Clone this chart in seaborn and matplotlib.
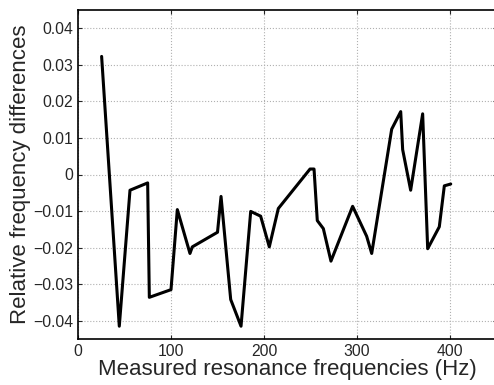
import pandas as pd
import matplotlib
matplotlib.use("Agg")
import matplotlib.pyplot as plt
import seaborn as sns

# 读取的数据点（从图上估计）
freq = [25.4, 44.4, 55.9, 74.9, 76.7, 100.0, 106.8, 120.4, 122.9, 150.0,
        153.8, 164.2, 175.3, 185.7, 196.4, 205.7, 215.4, 249.5, 253.8, 257.3,
        263.8, 272.0, 295.3, 310.4, 315.8, 337.3, 347.0, 349.1, 357.7, 370.6,
        376.0, 388.5, 393.9, 400.8]
rel_diff = [0.0323, -0.0415, -0.0043, -0.0023, -0.0336, -0.0315, -0.0096, -0.0216, -0.0198, -0.0158,
            -0.0060, -0.0342, -0.0415, -0.0101, -0.0114, -0.0198, -0.0093, 0.0015, 0.0015, -0.0126,
            -0.0148, -0.0237, -0.0087, -0.0169, -0.0216, 0.0124, 0.0172, 0.0068, -0.0043, 0.0166,
            -0.0203, -0.0143, -0.0031, -0.0026]
xticks = [0, 100, 200, 300, 400]
yticks = [-0.04, -0.03, -0.02, -0.01, 0, 0.01, 0.02, 0.03, 0.04]
ytick_labels = ['\u22120.04', '\u22120.03', '\u22120.02', '\u22120.01', '0',
                '0.01', '0.02', '0.03', '0.04']

df = pd.DataFrame({'freq': freq, 'diff': rel_diff})

sns.set_style("ticks")
plt.rcParams['font.family'] = ['Liberation Sans', 'DejaVu Sans']

fig = plt.figure(figsize=(4.94, 3.85), dpi=100)
ax = fig.add_axes([78 / 494, 1 - 339 / 385, 418.5 / 494, 329 / 385])

sns.lineplot(data=df, x='freq', y='diff', color='black', linewidth=2.2,
             estimator=None, sort=False, ax=ax)

ax.set_xlim(0, 450)
ax.set_ylim(-0.045, 0.045)
ax.set_xticks(xticks)
ax.set_yticks(yticks)
ax.set_yticklabels(ytick_labels)
ax.tick_params(direction='in', top=True, right=True, labelsize=11.3, length=3, width=0.8)

ax.grid(True, linestyle=':', color='#b0b0b0', linewidth=0.8)
ax.set_axisbelow(True)
for s in ax.spines.values():
    s.set_linewidth(1.2)
    s.set_color('black')

ax.set_xlabel("Measured resonance frequencies (Hz)", fontsize=16, labelpad=0)
ax.set_ylabel("Relative frequency differences", fontsize=16, labelpad=1.5)

fig.savefig("out.png", dpi=100)
plt.close(fig)
